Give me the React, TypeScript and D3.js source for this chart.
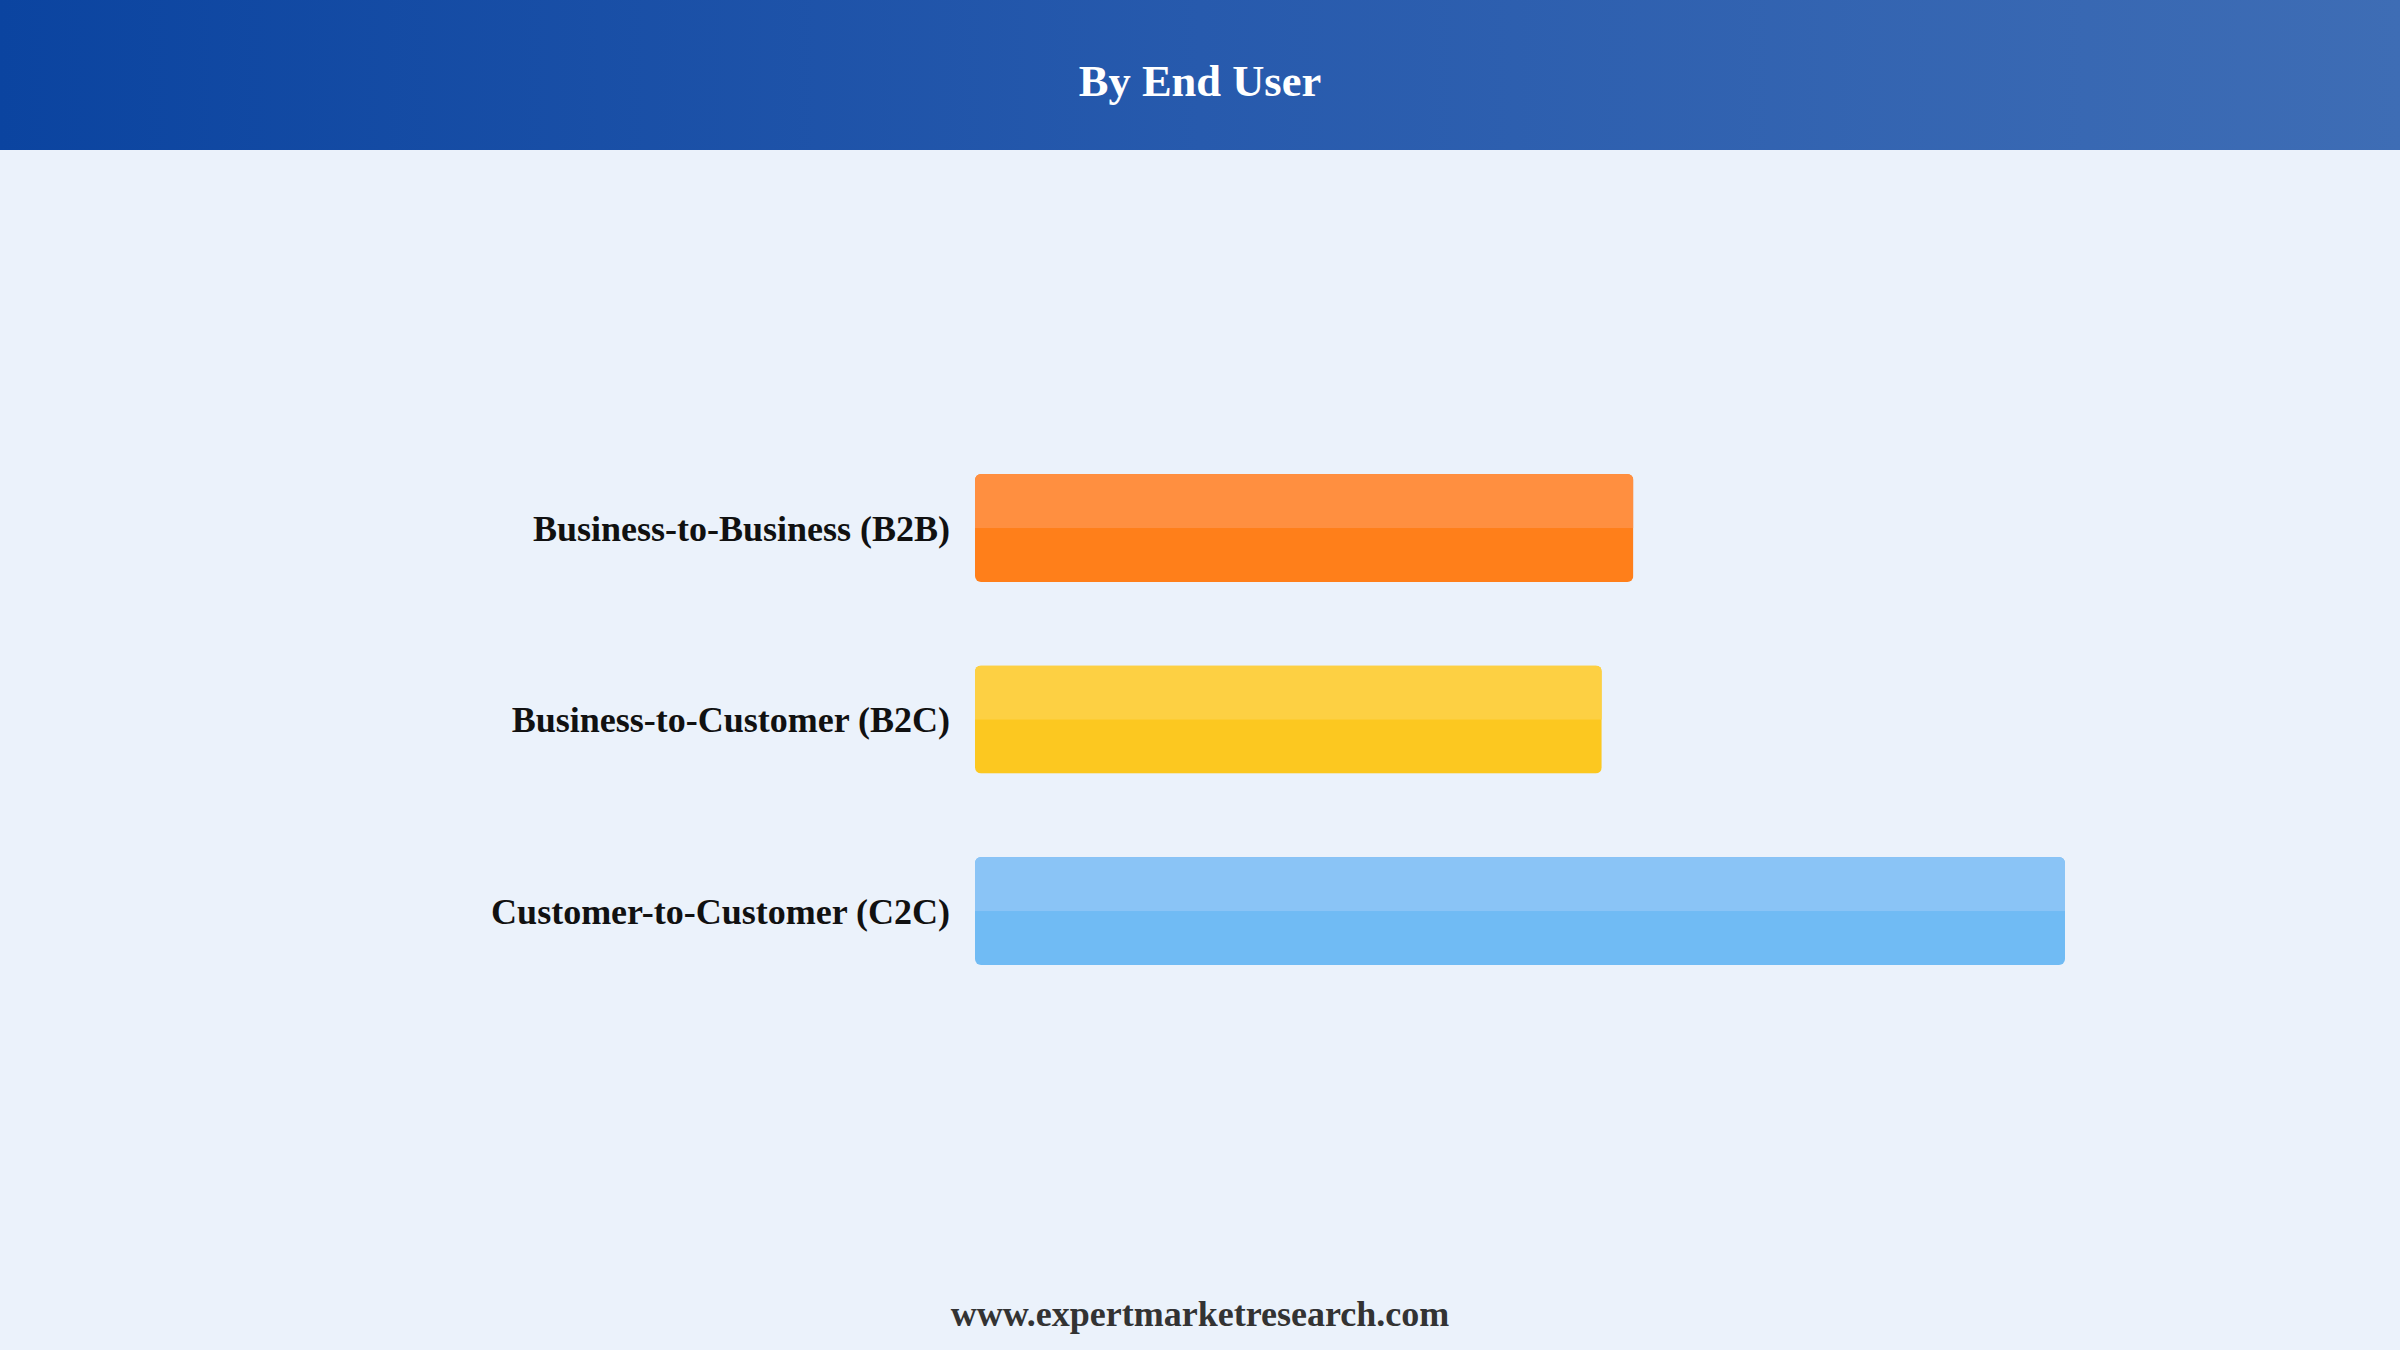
import React, { useEffect, useRef } from "react";
import * as d3 from "d3";

const categories: string[] = [
  "Business-to-Business (B2B)",
  "Business-to-Customer (B2C)",
  "Customer-to-Customer (C2C)",
];
const values: number[] = [60.4, 57.5, 100];
const topColors: string[] = ["#ff8f40", "#fdd043", "#8ac4f6"];
const bottomColors: string[] = ["#ff7f1a", "#fcc820", "#70bbf4"];
const title = "By End User";
const footer = "www.expertmarketresearch.com";

const W = 2400;
const H = 1350;
const FONT = "'Liberation Serif', 'Times New Roman', Times, serif";

export default function App() {
  const ref = useRef<SVGSVGElement | null>(null);

  useEffect(() => {
    const svg = d3.select(ref.current);
    svg.selectAll("*").remove();

    const defs = svg.append("defs");
    const grad = defs
      .append("linearGradient")
      .attr("id", "hdr")
      .attr("x1", "0%")
      .attr("x2", "100%")
      .attr("y1", "0%")
      .attr("y2", "0%");
    grad.append("stop").attr("offset", "0%").attr("stop-color", "#0b44a0");
    grad.append("stop").attr("offset", "50%").attr("stop-color", "#275aad");
    grad.append("stop").attr("offset", "100%").attr("stop-color", "#3e6db5");

    svg.append("rect").attr("width", W).attr("height", H).attr("fill", "#ebf2fb");
    svg.append("rect").attr("width", W).attr("height", 150).attr("fill", "url(#hdr)");

    svg
      .append("text")
      .attr("x", W / 2)
      .attr("y", 96)
      .attr("text-anchor", "middle")
      .attr("font-family", FONT)
      .attr("font-weight", "bold")
      .attr("font-size", 44.5)
      .attr("fill", "#ffffff")
      .text(title);

    const x = d3.scaleLinear().domain([0, 100]).range([975, 2065]);
    const y = d3
      .scaleBand<string>()
      .domain(categories)
      .range([432.3, 1006.8])
      .paddingInner(0.436)
      .paddingOuter(0.218);

    const g = svg.append("g");
    const bw = y.bandwidth();
    categories.forEach((c, i) => {
      const y0 = y(c) as number;
      const x0 = x(0);
      const w = x(values[i]) - x0;
      const clipId = `clip${i}`;
      defs
        .append("clipPath")
        .attr("id", clipId)
        .append("rect")
        .attr("x", x0)
        .attr("y", y0)
        .attr("width", w)
        .attr("height", bw)
        .attr("rx", 6)
        .attr("ry", 6);
      const bg = g.append("g").attr("clip-path", `url(#${clipId})`);
      bg.append("rect")
        .attr("x", x0)
        .attr("y", y0)
        .attr("width", w)
        .attr("height", bw)
        .attr("fill", bottomColors[i]);
      bg.append("rect")
        .attr("x", x0)
        .attr("y", y0)
        .attr("width", w)
        .attr("height", bw / 2)
        .attr("fill", topColors[i]);

      g.append("text")
        .attr("x", 950)
        .attr("y", y0 + bw / 2)
        .attr("dy", "0.35em")
        .attr("text-anchor", "end")
        .attr("font-family", FONT)
        .attr("font-weight", "bold")
        .attr("font-size", 36)
        .attr("fill", "#111111")
        .text(c);
    });

    svg
      .append("text")
      .attr("x", W / 2)
      .attr("y", 1326)
      .attr("text-anchor", "middle")
      .attr("font-family", FONT)
      .attr("font-weight", "bold")
      .attr("font-size", 36)
      .attr("fill", "#333333")
      .text(footer);
  }, []);

  return (
    <svg
      ref={ref}
      width={W}
      height={H}
      style={{ position: "absolute", left: 0, top: 0, display: "block" }}
    />
  );
}
